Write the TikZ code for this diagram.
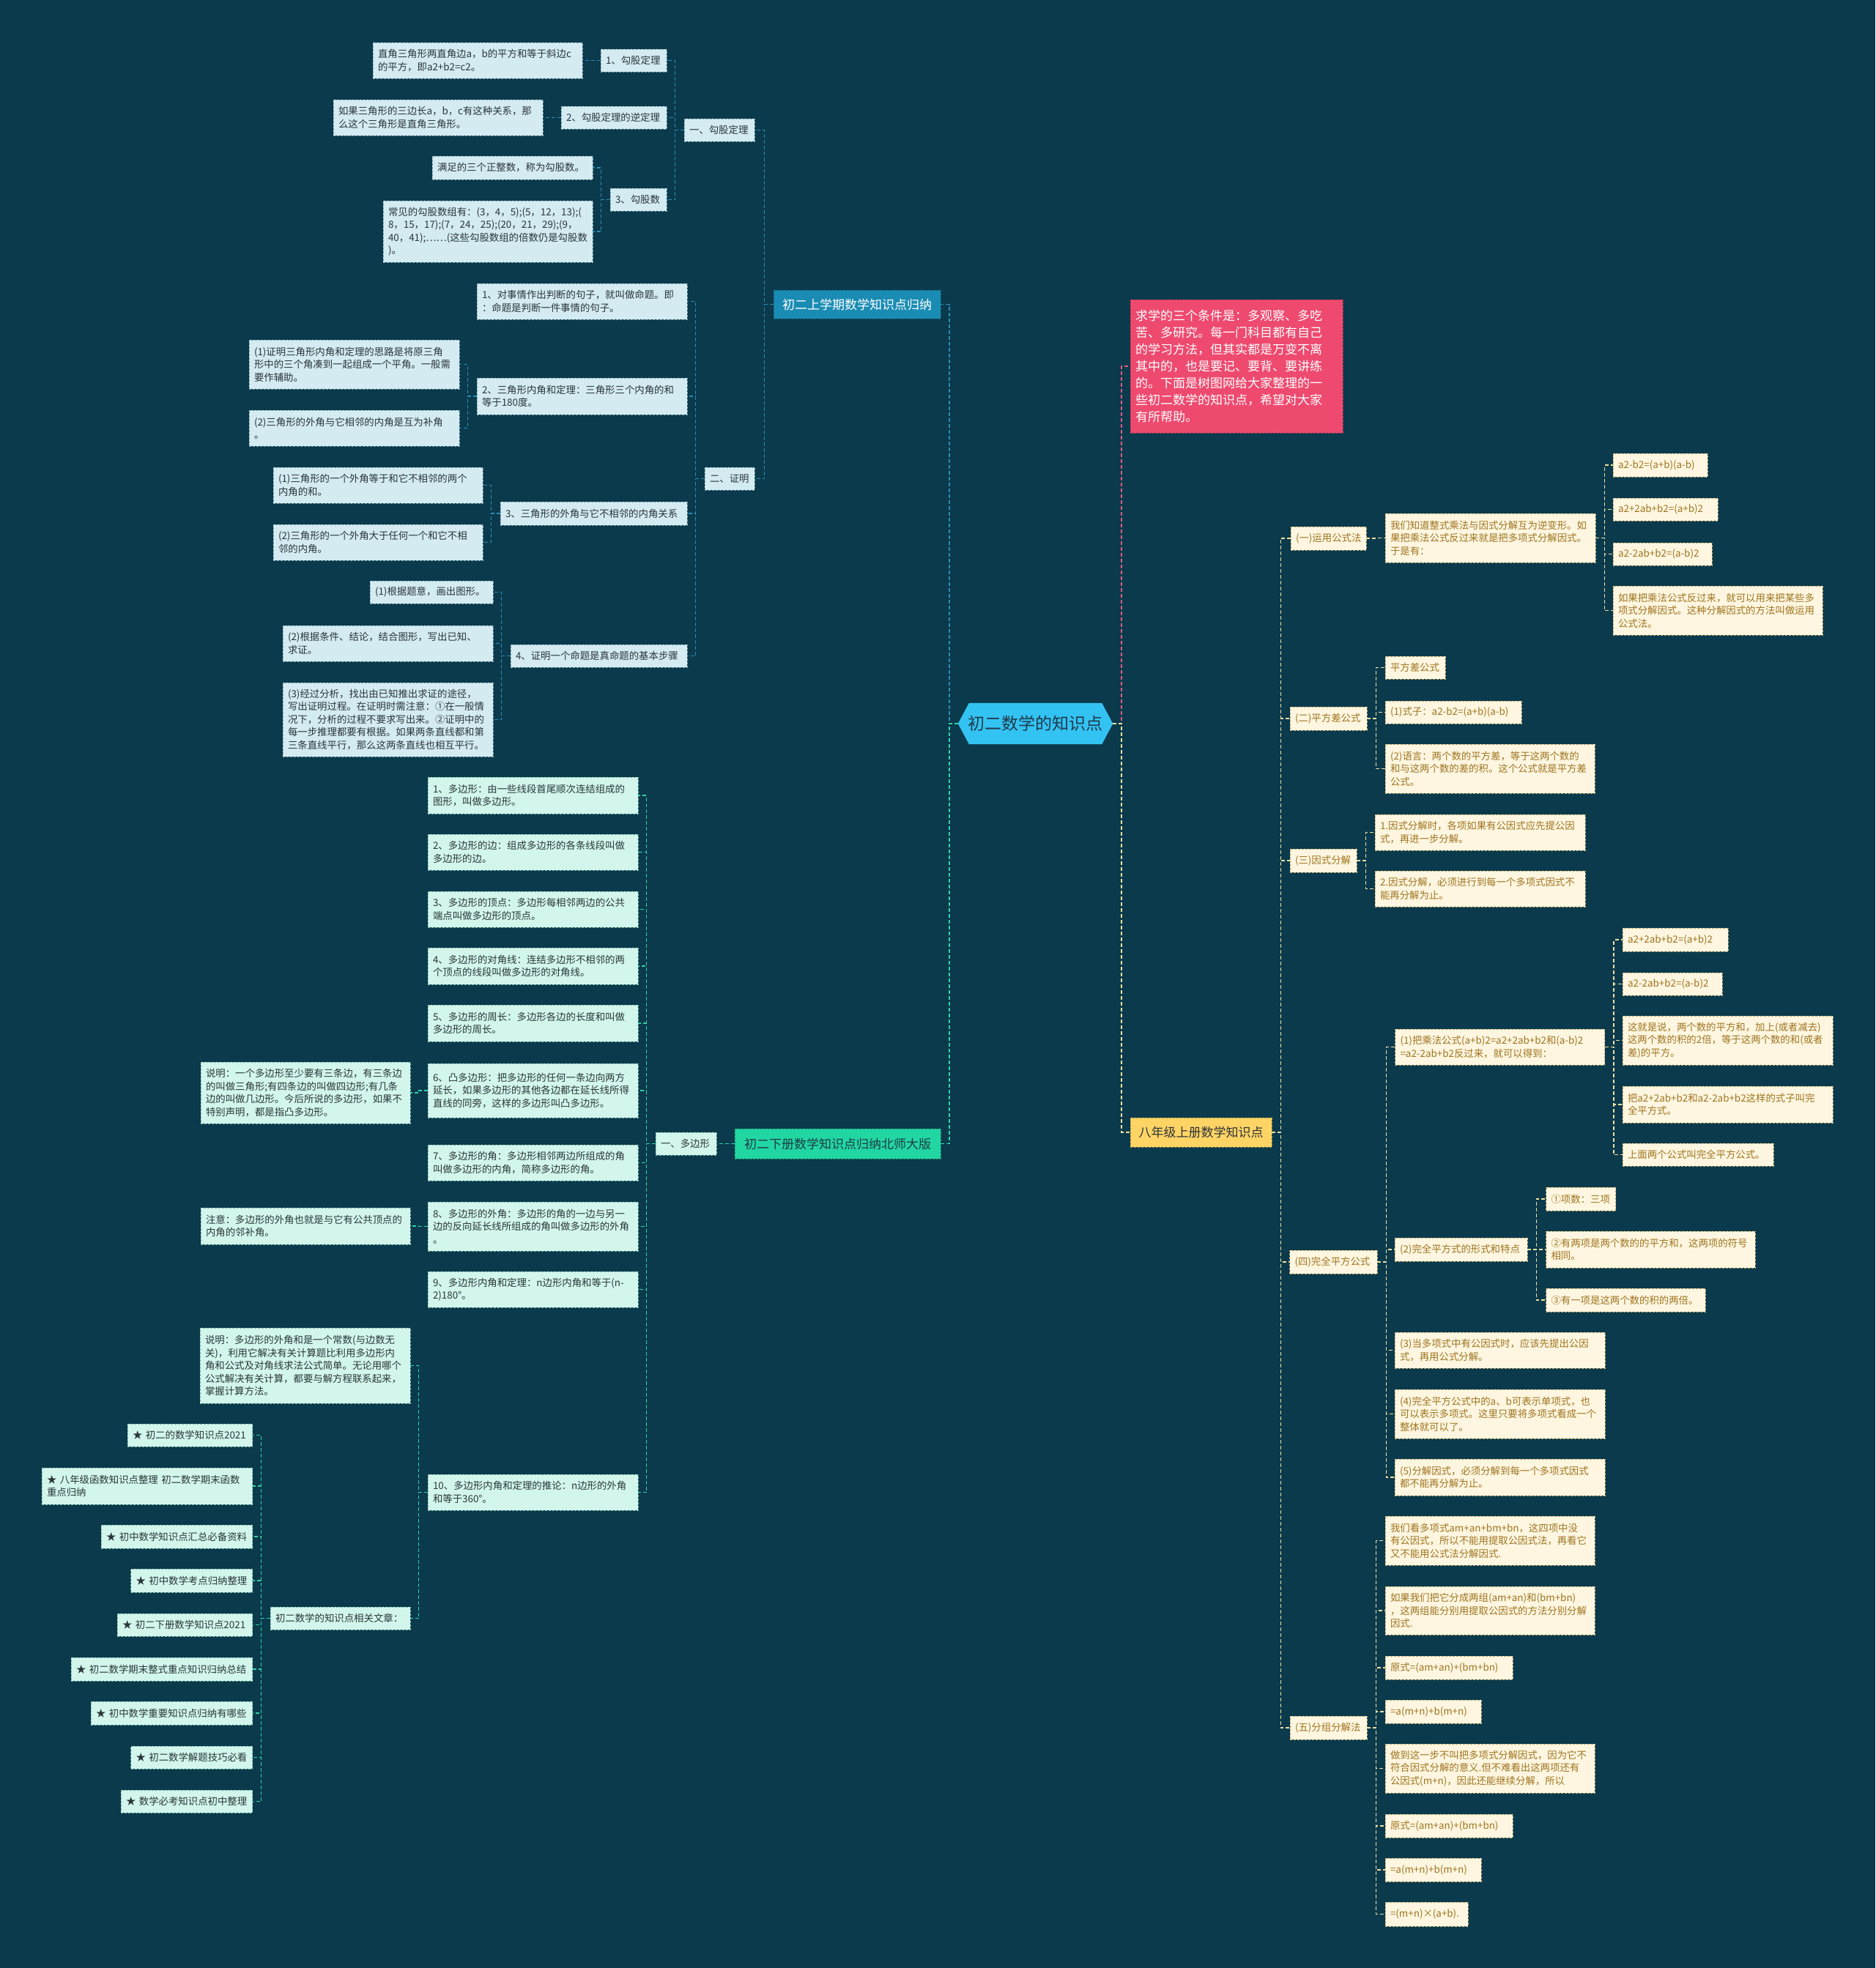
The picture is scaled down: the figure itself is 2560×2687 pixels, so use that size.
\documentclass[tikz,border=0pt]{standalone}
\usepackage{fontspec}
\setmainfont{Noto Sans CJK SC}
\pgfdeclarelayer{bgl}\pgfdeclarelayer{midl}\pgfsetlayers{bgl,midl,main}
\definecolor{bgc}{HTML}{0A3A4C}
\definecolor{lbfill}{HTML}{D4EBF2}\definecolor{lbdraw}{HTML}{7FA3AE}
\definecolor{lgfill}{HTML}{D2F6EC}\definecolor{lgdraw}{HTML}{7DB5A6}
\definecolor{lyfill}{HTML}{FEF6E0}\definecolor{lydraw}{HTML}{BFA970}
\definecolor{dtext}{HTML}{2A353A}\definecolor{ytext}{HTML}{9E7420}
\definecolor{hbfill}{HTML}{1A8CB4}\definecolor{hgfill}{HTML}{22D6A2}
\definecolor{hgtext}{HTML}{1E3B45}\definecolor{hyfill}{HTML}{FED465}
\definecolor{hytext}{HTML}{2E3338}\definecolor{notefill}{HTML}{EE4A6F}
\definecolor{cfill}{HTML}{33C3F2}\definecolor{ctext}{HTML}{1F3A4C}
\definecolor{conB}{HTML}{2B8CB5}\definecolor{conG}{HTML}{33D1A9}
\definecolor{conY}{HTML}{F3E0A2}\definecolor{conP}{HTML}{E45B82}
\newcommand\mkbox[7]{%
  \pgfmathsetmacro\mkw{#4-#2-14}%
  \pgfmathsetmacro\mkh{#5-#3}%
  \node[#6, text width=\mkw pt, minimum height=\mkh pt] (#1) at ({(#2+#4)/2},{(#3+#5)/2}) {#7};}
\newcommand\lconn[3]{\draw[#1] (#2.west) -- ++(-12,0) |- (#3.east);}
\newcommand\rconn[3]{\draw[#1] (#2.east) -- ++(12,0) |- (#3.west);}
\begin{document}
\begin{tikzpicture}[x=1pt,y=-1pt,
  boxbase/.style={rectangle, inner xsep=7pt, inner ysep=0pt, align=left,
    font=\fontsize{13.4}{17.5}\selectfont, dash pattern=on 3pt off 2pt, line width=0.9pt},
  leafB/.style={boxbase, fill=lbfill, draw=lbdraw, text=dtext},
  leafG/.style={boxbase, fill=lgfill, draw=lgdraw, text=dtext},
  leafY/.style={boxbase, fill=lyfill, draw=lydraw, text=ytext},
  headB/.style={boxbase, fill=hbfill, draw=hbfill!70!black, text=white, align=center, font=\fontsize{17}{22}\selectfont},
  headG/.style={boxbase, fill=hgfill, draw=hgfill!70!black, text=hgtext, align=center, font=\fontsize{17}{22}\selectfont},
  headY/.style={boxbase, fill=hyfill, draw=hyfill!70!black, text=hytext, align=center, font=\fontsize{17}{22}\selectfont},
  notebox/.style={boxbase, fill=notefill, draw=notefill!75!black, text=white, font=\fontsize{17}{23}\selectfont},
  cB/.style={draw=conB, line width=1.5pt, dash pattern=on 5pt off 3pt},
  cG/.style={draw=conG, line width=1.5pt, dash pattern=on 5pt off 3pt},
  cY/.style={draw=conY, line width=1.5pt, dash pattern=on 5pt off 3pt},
  cP/.style={draw=conP, line width=1.5pt, dash pattern=on 5pt off 3pt}]
\begin{pgfonlayer}{bgl}\fill[bgc] (0,0) rectangle (2560,2687);\end{pgfonlayer}
\useasboundingbox (0,0) rectangle (2560,2687);

% centre
\node[font=\fontsize{23}{28}\selectfont, text=ctext, minimum width=211pt, minimum height=56pt, inner sep=0pt] (C) at (1413.5,988) {初二数学的知识点};
\begin{pgfonlayer}{midl}
\fill[cfill] (C.west) -- ([xshift=15pt]C.north west) -- ([xshift=-15pt]C.north east) -- (C.east) -- ([xshift=-15pt]C.south east) -- ([xshift=15pt]C.south west) -- cycle;
\end{pgfonlayer}

% ===== upper left branch =====
\mkbox{H1}{1056}{396}{1284}{435}{headB}{初二上学期数学知识点归纳}
\mkbox{S1}{934}{162}{1030}{193}{leafB}{一、勾股定理}
\mkbox{L1}{820}{67}{910}{98}{leafB}{1、勾股定理}
\mkbox{A1}{509}{58}{795}{107}{leafB}{直角三角形两直角边a，b的平方和等于斜边c\\的平方，即a2+b2=c2。}
\mkbox{L2}{766}{145}{910}{176}{leafB}{2、勾股定理的逆定理}
\mkbox{A2}{455}{136}{741}{185}{leafB}{如果三角形的三边长a，b，c有这种关系，那\\么这个三角形是直角三角形。}
\mkbox{L3}{833}{257}{910}{288}{leafB}{3、勾股数}
\mkbox{A3}{590}{213}{809}{245}{leafB}{满足的三个正整数，称为勾股数。}
\mkbox{A4}{523}{274}{809}{358}{leafB}{常见的勾股数组有：(3，4，5);(5，12，13);(\\8，15，17);(7，24，25);(20，21，29);(9，\\40，41);……(这些勾股数组的倍数仍是勾股数\\)。}
\mkbox{S2}{962}{638}{1030}{669}{leafB}{二、证明}
\mkbox{B1}{651}{387}{938}{436}{leafB}{1、对事情作出判断的句子，就叫做命题。即\\：命题是判断一件事情的句子。}
\mkbox{B2}{651}{516}{938}{566}{leafB}{2、三角形内角和定理：三角形三个内角的和\\等于180度。}
\mkbox{B2a}{340}{464}{627}{531}{leafB}{(1)证明三角形内角和定理的思路是将原三角\\形中的三个角凑到一起组成一个平角。一般需\\要作辅助。}
\mkbox{B2b}{340}{560}{627}{609}{leafB}{(2)三角形的外角与它相邻的内角是互为补角\\。}
\mkbox{B3}{683}{685}{938}{717}{leafB}{3、三角形的外角与它不相邻的内角关系}
\mkbox{B3a}{373}{638}{659}{687}{leafB}{(1)三角形的一个外角等于和它不相邻的两个\\内角的和。}
\mkbox{B3b}{373}{716}{659}{765}{leafB}{(2)三角形的一个外角大于任何一个和它不相\\邻的内角。}
\mkbox{B4}{697}{880}{938}{911}{leafB}{4、证明一个命题是真命题的基本步骤}
\mkbox{B4a}{505}{793}{673}{824}{leafB}{(1)根据题意，画出图形。}
\mkbox{B4b}{386}{854}{673}{903}{leafB}{(2)根据条件、结论，结合图形，写出已知、\\求证。}
\mkbox{B4c}{386}{932}{673}{1033}{leafB}{(3)经过分析，找出由已知推出求证的途径，\\写出证明过程。在证明时需注意：①在一般情\\况下，分析的过程不要求写出来。②证明中的\\每一步推理都要有根据。如果两条直线都和第\\三条直线平行，那么这两条直线也相互平行。}

\lconn{cB}{C}{H1}
\lconn{cB}{H1}{S1}\lconn{cB}{H1}{S2}
\lconn{cB}{S1}{L1}\lconn{cB}{S1}{L2}\lconn{cB}{S1}{L3}
\lconn{cB}{L1}{A1}\lconn{cB}{L2}{A2}\lconn{cB}{L3}{A3}\lconn{cB}{L3}{A4}
\lconn{cB}{S2}{B1}\lconn{cB}{S2}{B2}\lconn{cB}{S2}{B3}\lconn{cB}{S2}{B4}
\lconn{cB}{B2}{B2a}\lconn{cB}{B2}{B2b}
\lconn{cB}{B3}{B3a}\lconn{cB}{B3}{B3b}
\lconn{cB}{B4}{B4a}\lconn{cB}{B4}{B4b}\lconn{cB}{B4}{B4c}

% ===== lower left branch =====
\mkbox{H2}{1003}{1541}{1284}{1582}{headG}{初二下册数学知识点归纳北师大版}
\mkbox{S3}{895}{1546}{978}{1577}{leafG}{一、多边形}
\mkbox{P1}{584}{1061}{871}{1111}{leafG}{1、多边形：由一些线段首尾顺次连结组成的\\图形，叫做多边形。}
\mkbox{P2}{584}{1139}{871}{1188}{leafG}{2、多边形的边：组成多边形的各条线段叫做\\多边形的边。}
\mkbox{P3}{584}{1217}{871}{1266}{leafG}{3、多边形的顶点：多边形每相邻两边的公共\\端点叫做多边形的顶点。}
\mkbox{P4}{584}{1294}{871}{1344}{leafG}{4、多边形的对角线：连结多边形不相邻的两\\个顶点的线段叫做多边形的对角线。}
\mkbox{P5}{584}{1372}{871}{1422}{leafG}{5、多边形的周长：多边形各边的长度和叫做\\多边形的周长。}
\mkbox{P6}{584}{1452}{871}{1526}{leafG}{6、凸多边形：把多边形的任何一条边向两方\\延长，如果多边形的其他各边都在延长线所得\\直线的同旁，这样的多边形叫凸多边形。}
\mkbox{N6}{274}{1450}{560}{1534}{leafG}{说明：一个多边形至少要有三条边，有三条边\\的叫做三角形;有四条边的叫做四边形;有几条\\边的叫做几边形。今后所说的多边形，如果不\\特别声明，都是指凸多边形。}
\mkbox{P7}{584}{1563}{871}{1612}{leafG}{7、多边形的角：多边形相邻两边所组成的角\\叫做多边形的内角，简称多边形的角。}
\mkbox{P8}{584}{1641}{871}{1708}{leafG}{8、多边形的外角：多边形的角的一边与另一\\边的反向延长线所组成的角叫做多边形的外角\\。}
\mkbox{N8}{274}{1649}{560}{1699}{leafG}{注意：多边形的外角也就是与它有公共顶点的\\内角的邻补角。}
\mkbox{P9}{584}{1736}{871}{1785}{leafG}{9、多边形内角和定理：n边形内角和等于(n-\\2)180°。}
\mkbox{P10}{584}{2013}{871}{2062}{leafG}{10、多边形内角和定理的推论：n边形的外角\\和等于360°。}
\mkbox{N10}{273}{1813}{560}{1916}{leafG}{说明：多边形的外角和是一个常数(与边数无\\关)，利用它解决有关计算题比利用多边形内\\角和公式及对角线求法公式简单。无论用哪个\\公式解决有关计算，都要与解方程联系起来，\\掌握计算方法。}
\mkbox{R0}{369}{2194}{560}{2225}{leafG}{初二数学的知识点相关文章：}
\mkbox{ST1}{174}{1944}{344.5}{1975}{leafG}{★ 初二的数学知识点2021}
\mkbox{ST2}{57}{2004}{344.5}{2054}{leafG}{★ 八年级函数知识点整理 初二数学期末函数\\重点归纳}
\mkbox{ST3}{138}{2082}{344.5}{2114}{leafG}{★ 初中数学知识点汇总必备资料}
\mkbox{ST4}{178.5}{2142}{344.5}{2174}{leafG}{★ 初中数学考点归纳整理}
\mkbox{ST5}{160}{2203}{344.5}{2234}{leafG}{★ 初二下册数学知识点2021}
\mkbox{ST6}{97}{2263}{344.5}{2295}{leafG}{★ 初二数学期末整式重点知识归纳总结}
\mkbox{ST7}{124}{2323}{344.5}{2355}{leafG}{★ 初中数学重要知识点归纳有哪些}
\mkbox{ST8}{178.5}{2384}{344.5}{2415}{leafG}{★ 初二数学解题技巧必看}
\mkbox{ST9}{165}{2444}{344.5}{2475}{leafG}{★ 数学必考知识点初中整理}

\lconn{cG}{C}{H2}
\lconn{cG}{H2}{S3}
\foreach \k in {P1,P2,P3,P4,P5,P6,P7,P8,P9,P10}{\lconn{cG}{S3}{\k}}
\lconn{cG}{P6}{N6}\lconn{cG}{P8}{N8}
\lconn{cG}{P10}{N10}\lconn{cG}{P10}{R0}
\foreach \k in {ST1,ST2,ST3,ST4,ST5,ST6,ST7,ST8,ST9}{\lconn{cG}{R0}{\k}}

% ===== right side =====
\mkbox{NOTE}{1543}{409}{1833}{591}{notebox}{求学的三个条件是：多观察、多吃\\苦、多研究。每一门科目都有自己\\的学习方法，但其实都是万变不离\\其中的，也是要记、要背、要讲练\\的。下面是树图网给大家整理的一\\些初二数学的知识点，希望对大家\\有所帮助。}
\mkbox{H3}{1543}{1526}{1736}{1566}{headY}{八年级上册数学知识点}
\mkbox{Y1}{1762}{719}{1865}{751}{leafY}{(一)运用公式法}
\mkbox{Y1a}{1891}{701}{2178}{768}{leafY}{我们知道整式乘法与因式分解互为逆变形。如\\果把乘法公式反过来就是把多项式分解因式。\\于是有：}
\mkbox{Y1a1}{2202}{619}{2331}{651}{leafY}{a2-b2=(a+b)(a-b)}
\mkbox{Y1a2}{2202}{680}{2345}{711}{leafY}{a2+2ab+b2=(a+b)2}
\mkbox{Y1a3}{2202}{741}{2337}{772}{leafY}{a2-2ab+b2=(a-b)2}
\mkbox{Y1a4}{2202}{800}{2488}{867}{leafY}{如果把乘法公式反过来，就可以用来把某些多\\项式分解因式。这种分解因式的方法叫做运用\\公式法。}
\mkbox{Y2}{1761}{965}{1866}{997}{leafY}{(二)平方差公式}
\mkbox{Y2a}{1891}{896}{1973}{927}{leafY}{平方差公式}
\mkbox{Y2b}{1891}{957}{2077}{988}{leafY}{(1)式子：a2-b2=(a+b)(a-b)}
\mkbox{Y2c}{1891}{1016}{2177}{1083}{leafY}{(2)语言：两个数的平方差，等于这两个数的\\和与这两个数的差的积。这个公式就是平方差\\公式。}
\mkbox{Y3}{1761}{1159}{1852}{1191}{leafY}{(三)因式分解}
\mkbox{Y3a}{1877}{1112}{2164}{1161}{leafY}{1.因式分解时，各项如果有公因式应先提公因\\式，再进一步分解。}
\mkbox{Y3b}{1877}{1189}{2164}{1238}{leafY}{2.因式分解，必须进行到每一个多项式因式不\\能再分解为止。}
\mkbox{Y4}{1760.5}{1707}{1880}{1739}{leafY}{(四)完全平方公式}
\mkbox{Y4a}{1904.5}{1405}{2190.6}{1454}{leafY}{(1)把乘法公式(a+b)2=a2+2ab+b2和(a-b)2\\=a2-2ab+b2反过来，就可以得到：}
\mkbox{Y4a1}{2215}{1267}{2359}{1299}{leafY}{a2+2ab+b2=(a+b)2}
\mkbox{Y4a2}{2215}{1328}{2351}{1359}{leafY}{a2-2ab+b2=(a-b)2}
\mkbox{Y4a3}{2215}{1387}{2502}{1454}{leafY}{这就是说，两个数的平方和，加上(或者减去)\\这两个数的积的2倍，等于这两个数的和(或者\\差)的平方。}
\mkbox{Y4a4}{2215}{1483}{2502}{1533}{leafY}{把a2+2ab+b2和a2-2ab+b2这样的式子叫完\\全平方式。}
\mkbox{Y4a5}{2215}{1561}{2421}{1592}{leafY}{上面两个公式叫完全平方公式。}
\mkbox{Y4b}{1904}{1690}{2085}{1722}{leafY}{(2)完全平方式的形式和特点}
\mkbox{Y4b1}{2110.5}{1621}{2205.6}{1653}{leafY}{①项数：三项}
\mkbox{Y4b2}{2110.5}{1681}{2396}{1731}{leafY}{②有两项是两个数的的平方和，这两项的符号\\相同。}
\mkbox{Y4b3}{2110.5}{1759}{2328}{1791}{leafY}{③有一项是这两个数的积的两倍。}
\mkbox{Y4c}{1904}{1819}{2191}{1868}{leafY}{(3)当多项式中有公因式时，应该先提出公因\\式，再用公式分解。}
\mkbox{Y4d}{1904}{1897}{2191}{1964}{leafY}{(4)完全平方公式中的a、b可表示单项式，也\\可以表示多项式。这里只要将多项式看成一个\\整体就可以了。}
\mkbox{Y4e}{1904}{1992}{2191}{2042}{leafY}{(5)分解因式，必须分解到每一个多项式因式\\都不能再分解为止。}
\mkbox{Y5}{1761}{2343}{1866}{2375}{leafY}{(五)分组分解法}
\mkbox{G1}{1891}{2070}{2177}{2137}{leafY}{我们看多项式am+an+bm+bn，这四项中没\\有公因式，所以不能用提取公因式法，再看它\\又不能用公式法分解因式.}
\mkbox{G2}{1891}{2166}{2177}{2232}{leafY}{如果我们把它分成两组(am+an)和(bm+bn)\\，这两组能分别用提取公因式的方法分别分解\\因式.}
\mkbox{G3}{1891}{2261}{2065}{2293}{leafY}{原式=(am+an)+(bm+bn)}
\mkbox{G4}{1891}{2321}{2022}{2353}{leafY}{=a(m+n)+b(m+n)}
\mkbox{G5}{1891}{2381}{2177}{2448}{leafY}{做到这一步不叫把多项式分解因式，因为它不\\符合因式分解的意义.但不难看出这两项还有\\公因式(m+n)，因此还能继续分解，所以}
\mkbox{G6}{1891}{2477}{2065}{2509}{leafY}{原式=(am+an)+(bm+bn)}
\mkbox{G7}{1891}{2537}{2022}{2569}{leafY}{=a(m+n)+b(m+n)}
\mkbox{G8}{1891}{2597}{2004}{2630}{leafY}{=(m+n)×(a+b).}

\rconn{cP}{C}{NOTE}
\rconn{cY}{C}{H3}
\foreach \k in {Y1,Y2,Y3,Y4,Y5}{\rconn{cY}{H3}{\k}}
\rconn{cY}{Y1}{Y1a}
\foreach \k in {Y1a1,Y1a2,Y1a3,Y1a4}{\rconn{cY}{Y1a}{\k}}
\foreach \k in {Y2a,Y2b,Y2c}{\rconn{cY}{Y2}{\k}}
\foreach \k in {Y3a,Y3b}{\rconn{cY}{Y3}{\k}}
\foreach \k in {Y4a,Y4b,Y4c,Y4d,Y4e}{\rconn{cY}{Y4}{\k}}
\foreach \k in {Y4a1,Y4a2,Y4a3,Y4a4,Y4a5}{\rconn{cY}{Y4a}{\k}}
\foreach \k in {Y4b1,Y4b2,Y4b3}{\rconn{cY}{Y4b}{\k}}
\foreach \k in {G1,G2,G3,G4,G5,G6,G7,G8}{\rconn{cY}{Y5}{\k}}
\end{tikzpicture}
\end{document}
